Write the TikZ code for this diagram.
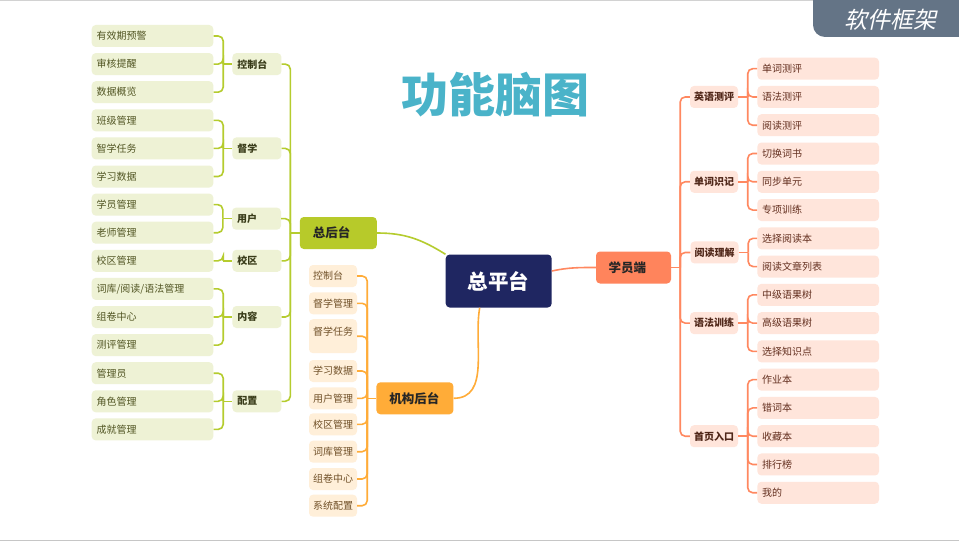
\documentclass[tikz,border=0pt]{standalone}
\usepackage{fontspec}
\setmainfont{Noto Sans CJK SC}
\newfontfamily\slantcjk[FakeSlant=0.22]{Noto Sans CJK SC}
\usetikzlibrary{positioning}

\definecolor{navyroot}{RGB}{31,38,97}
\definecolor{greenline}{RGB}{181,204,46}
\definecolor{greenbox}{RGB}{183,202,42}
\definecolor{greenleaf}{RGB}{238,242,213}
\definecolor{greentext}{RGB}{82,86,36}
\definecolor{orangeline}{RGB}{255,172,56}
\definecolor{orangeleaf}{RGB}{255,239,217}
\definecolor{orangetext}{RGB}{112,80,40}
\definecolor{coralline}{RGB}{255,136,96}
\definecolor{coralbox}{RGB}{255,132,92}
\definecolor{coralleaf}{RGB}{255,229,219}
\definecolor{coraltext}{RGB}{100,48,32}
\definecolor{titleblue}{RGB}{74,179,201}
\definecolor{badgegray}{RGB}{100,116,134}

\tikzset{
  box/.style={rounded corners=4pt,inner sep=0pt,align=left,font=\fontsize{10}{12}\selectfont},
  bigbox/.style={box,minimum height=32,text width=51,inner xsep=13,text=black!85,font=\bfseries\fontsize{12.5}{15}\selectfont},
  leafG/.style={box,fill=greenleaf,text=greentext,minimum height=22,text width=112,inner xsep=4.8},
  midG/.style={leafG,text=greentext!70!black,text width=39,inner xsep=5,font=\bfseries\fontsize{10}{12}\selectfont},
  leafO/.style={box,fill=orangeleaf,text=orangetext,minimum height=22,text width=40,inner xsep=4},
  leafOtall/.style={leafO,minimum height=34,text height=13,text depth=15},
  leafC/.style={box,fill=coralleaf,text=coraltext,minimum height=22,text width=112,inner xsep=4.8},
  midC/.style={leafC,text=coraltext!80!black,text width=40,inner xsep=4,font=\bfseries\fontsize{10}{12}\selectfont},
  lnG/.style={draw=greenline,line width=1.6},
  lnO/.style={draw=orangeline,line width=1.6},
  lnC/.style={draw=coralline,line width=1.6},
}

\begin{document}
\begin{tikzpicture}[x=1pt,y=-1pt]
\path[fill=white] (0,0) rectangle (959,543);
\useasboundingbox (0,0) rectangle (959,543);
\draw[gray!35,line width=1.2] (0,0.6) -- (959,0.6);
\draw[gray!45,line width=1.2] (0,540.5) -- (959,540.5);

% badge and title
\fill[badgegray,rounded corners=12pt] (813,-20) rectangle (980,37);
\node[text=white,font=\slantcjk\fontsize{23}{27}\selectfont] (rjkj) at (890,20) {软件框架};
\node[text=titleblue,font=\bfseries\fontsize{47}{52}\selectfont] (gnnt) at (495.5,95) {功能脑图};

% main boxes
\node[box,fill=navyroot,text=white,minimum width=106,minimum height=53,align=center,
      font=\bfseries\fontsize{20.5}{24}\selectfont] (zpt) at (498.7,281) {总平台};
\node[bigbox,fill=greenbox] (zht) at (338.3,233) {总后台};
\node[bigbox,fill=coralbox,text width=50,inner xsep=12.5] (xyd) at (633.5,267.5) {学员端};

% 总后台
\foreach \t [count=\i from 0] in {有效期预警,审核提醒,数据概览,班级管理,智学任务,学习数据,
    学员管理,老师管理,校区管理,词库/阅读/语法管理,组卷中心,测评管理,管理员,角色管理,成就管理}
  \node[leafG] (g\i) at (152.5,36+28.1*\i) {\t};
\node[midG,right=18.7pt of g1] (kzt) {控制台};
\node[midG,right=18.7pt of g4] (dx) {督学};
\node[midG] (yh) at (256.5,218.65) {用户};
\node[midG,right=18.7pt of g8] (xq) {校区};
\node[midG,right=18.7pt of g10] (nr) {内容};
\node[midG,right=18.7pt of g13] (pz) {配置};
\foreach \m/\a/\b in {kzt/0/2,dx/3/5,yh/6/7,xq/8/8,nr/9/11,pz/12/14}{
  \coordinate (j\m) at ([xshift=-9pt]\m.west);
  \draw[lnG] (j\m) -- (\m.west);
  \foreach \k in {\a,...,\b}
    \draw[lnG,rounded corners=5pt] (g\k.east) -| (j\m);
}
\coordinate (jzht) at ([xshift=-9.3pt]zht.west);
\draw[lnG] (jzht) -- (zht.west);
\foreach \m in {kzt,dx,yh,xq,nr,pz}
  \draw[lnG,rounded corners=5pt] (\m.east) -| (jzht);
\draw[lnG] (zht.east) to[out=0,in=148] (zpt.north west);

% 机构后台
\foreach \y/\s/\t [count=\i from 0] in {276/leafO/控制台,303.3/leafO/督学管理,336.2/leafOtall/督学任务,
    371/leafO/学习数据,398.3/leafO/用户管理,424.3/leafO/校区管理,451.7/leafO/词库管理,
    479/leafO/组卷中心,505.7/leafO/系统配置}
  \node[\s] (o\i) at (333,\y) {\t};
\node[bigbox,fill=orangeline,right=19pt of o4] (jgt) {机构后台};
\coordinate (jjgt) at ([xshift=-9pt]jgt.west);
\draw[lnO] (jjgt) -- (jgt.west);
\foreach \k in {0,...,8}
  \draw[lnO,rounded corners=5pt] (o\k.east) -| (jjgt);
\draw[lnO] ([xshift=-19pt]zpt.south) to[out=260,in=0] (jgt.east);

% 学员端
\foreach \t [count=\i from 0] in {单词测评,语法测评,阅读测评,切换词书,同步单元,专项训练,选择阅读本,阅读文章列表,
    中级语果树,高级语果树,选择知识点,作业本,错词本,收藏本,排行榜,我的}
  \node[leafC] (r\i) at (818.2,68.7+28.27*\i) {\t};
\node[midC,left=19pt of r1] (yycp) {英语测评};
\node[midC,left=19pt of r4] (dcsj) {单词识记};
\node[midC] (ydlj) at (714.5,252.45) {阅读理解};
\node[midC,left=19pt of r9] (yfxl) {语法训练};
\node[midC,left=19pt of r13] (syrk) {首页入口};
\coordinate (jxyd) at ([xshift=9pt]xyd.east);
\draw[lnC] (xyd.east) -- (jxyd);
\foreach \m/\a/\b in {yycp/0/2,dcsj/3/5,ydlj/6/7,yfxl/8/10,syrk/11/15}{
  \coordinate (j\m) at ([xshift=9.5pt]\m.east);
  \draw[lnC] (\m.east) -- (j\m);
  \foreach \k in {\a,...,\b}
    \draw[lnC,rounded corners=5pt] (r\k.west) -| (j\m);
  \draw[lnC,rounded corners=5pt] (\m.west) -| (jxyd);
}
\draw[lnC] ([yshift=10pt]zpt.east) to[out=12,in=180] (xyd.west);
\end{tikzpicture}
\end{document}
